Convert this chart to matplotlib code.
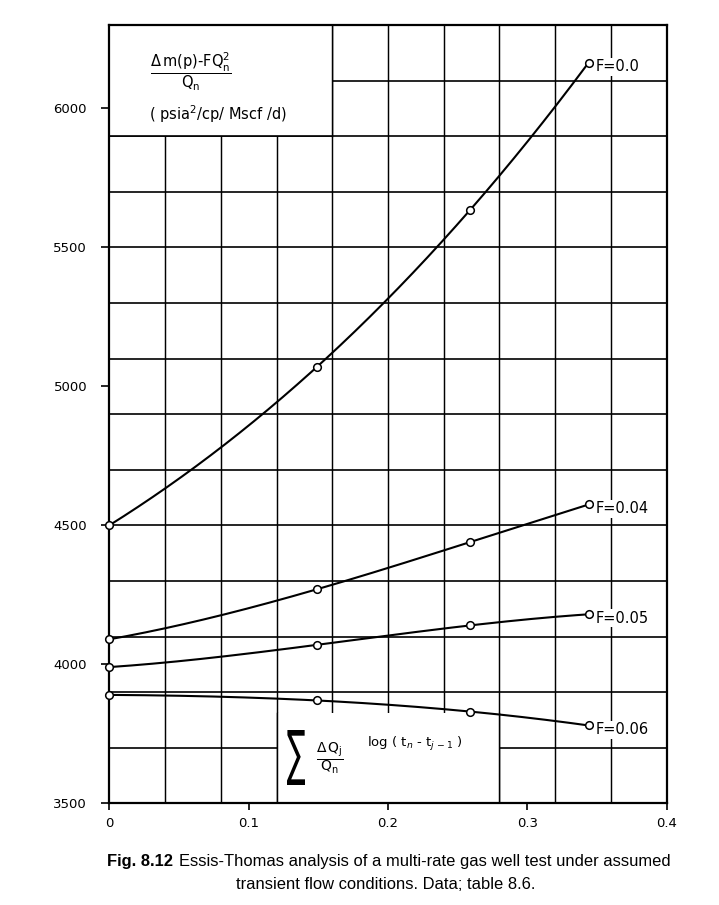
import numpy as np
import matplotlib
matplotlib.use("Agg")
import matplotlib.pyplot as plt
from matplotlib.patches import Rectangle, PathPatch
from matplotlib.textpath import TextPath
from matplotlib.font_manager import FontProperties
from matplotlib.transforms import Affine2D

# values
x_sum = [0.0, 0.149, 0.259, 0.344]
f_labels = ["F=0.0", "F=0.04", "F=0.05", "F=0.06"]
f_00 = [4500, 5070, 5635, 6165]
f_04 = [4090, 4270, 4440, 4575]
f_05 = [3990, 4070, 4140, 4180]
f_06 = [3890, 3870, 3830, 3780]

x_ticks = [0, 0.1, 0.2, 0.3, 0.4]
x_tick_labels = ["0", "0.1", "0.2", "0.3", "0.4"]
y_ticks = [3500, 4000, 4500, 5000, 5500, 6000]

plt.rcParams["font.family"] = ["DejaVu Sans"]
plt.rcParams["mathtext.fontset"] = "dejavusans"
cap_font = ["Liberation Sans", "DejaVu Sans"]

W, H = 719, 905
fig = plt.figure(figsize=(W / 100, H / 100), dpi=100)
ax = fig.add_axes([109.3 / W, 1 - 803.3 / H, 557.4 / W, 778.3 / H])
ax.set_xlim(0, 0.4)
ax.set_ylim(3500, 6300)

# graph paper grid
for gx in np.linspace(0, 0.4, 11)[1:-1]:
    ax.axvline(gx, color="black", lw=1.05, zorder=1)
for gy in np.arange(3700, 6300, 200):
    ax.axhline(gy, color="black", lw=1.2, zorder=1)

# white label boxes cut out of the grid
ax.add_patch(Rectangle((0, 5900), 0.16, 400, facecolor="white", edgecolor="none", zorder=1.5))
ax.add_patch(Rectangle((0.12, 3500), 0.16, 325, facecolor="white", edgecolor="none", zorder=1.5))
ax.plot([0, 0.16], [5900, 5900], color="black", lw=1.2, zorder=2)
ax.plot([0.16, 0.16], [5900, 6300], color="black", lw=1.05, zorder=2)
ax.plot([0.12, 0.12], [3500, 3825], color="black", lw=1.05, zorder=2)
ax.plot([0.28, 0.28], [3500, 3825], color="black", lw=1.05, zorder=2)

series = [f_00, f_04, f_05, f_06]
for lbl, ys in zip(f_labels, series):
    # smooth drawing line through the four measured points
    c = np.polyfit(x_sum, ys, 3)
    xs = np.linspace(0, x_sum[-1], 200)
    ax.plot(xs, np.polyval(c, xs), color="black", lw=1.5, zorder=3)
    ax.plot(x_sum, ys, "o", ms=5.5, mfc="white", mec="black", mew=1.1,
            zorder=4, clip_on=False)
    ax.annotate(lbl, (x_sum[-1], ys[-1]), xytext=(5, -3), textcoords="offset points",
                ha="left", va="center", fontsize=10.5, zorder=5,
                bbox=dict(facecolor="white", edgecolor="none", pad=1.0))

for s in ax.spines.values():
    s.set_linewidth(1.6)
ax.set_xticks(x_ticks)
ax.set_xticklabels(x_tick_labels)
ax.set_yticks(y_ticks)
ax.tick_params(axis="y", direction="out", length=6, width=1.2, labelsize=9.5, pad=10)
ax.tick_params(axis="x", direction="out", length=5, width=1.2, labelsize=9.5, pad=5)

# y-axis quantity, top left box
ax.text(0.0587, 6130, r"$\dfrac{\Delta\,\mathrm{m(p)\text{-}FQ_n^2}}{\mathrm{Q_n}}$",
        ha="center", va="center", fontsize=10.5, zorder=5)
ax.text(0.0782, 5979, r"( psia$^2$/cp/ Mscf /d)", ha="center", va="center",
        fontsize=10.5, zorder=5)

# x-axis quantity, bottom box
tp = TextPath((0, 0), "\u2211", size=50, prop=FontProperties(family="DejaVu Sans"))
bb = tp.get_extents()
tr = Affine2D().translate(-bb.x0, -bb.y0).scale(18 / bb.width, 55 / bb.height).translate(287, H - 785)
fig.add_artist(PathPatch(tp, transform=tr, facecolor="black", edgecolor="none", lw=0))
ax.text(0.158, 3663, r"$\dfrac{\mathrm{\Delta\,Q_j}}{\mathrm{Q_n}}$", ha="center", va="center",
        fontsize=10, zorder=5)
ax.text(0.1848, 3712, r"log ( t$_n$ - t$_{j\,-1}$ )", ha="left", va="center",
        fontsize=9.5, zorder=5)

# caption, first line fitted to the axes width
cap_y1 = 1 - 861 / H
cap_y2 = 1 - 884 / H
fs = 11.0
t1 = fig.text(107 / W, cap_y1, "Fig. 8.12", fontsize=fs, weight="bold",
              va="center", family=cap_font)
t2 = fig.text(0, cap_y1, "Essis-Thomas analysis of a multi-rate gas well test under assumed",
              fontsize=fs, va="center", family=cap_font)
fig.canvas.draw()
r = fig.canvas.get_renderer()
total = t1.get_window_extent(r).width + 6 + t2.get_window_extent(r).width
fs = fs * (666 - 107) / total
t1.set_fontsize(fs)
t2.set_fontsize(fs)
fig.canvas.draw()
b1 = t1.get_window_extent(r)
t2.set_x((b1.x1 + 6) / W)
fig.text(386 / W, cap_y2, "transient flow conditions. Data; table 8.6.",
         fontsize=fs, ha="center", va="center", family=cap_font)

fig.savefig("out.png", dpi=100)
